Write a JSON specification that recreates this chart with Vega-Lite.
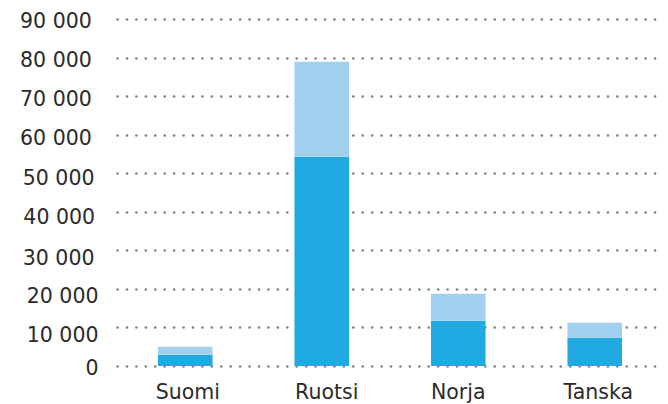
{
  "$schema": "https://vega.github.io/schema/vega-lite/v6.json",
  "autosize": "none",
  "padding": {"left": 117, "top": 19, "right": 5, "bottom": 38},
  "width": 546,
  "height": 347,
  "background": "white",
  "config": {
    "view": {"stroke": null},
    "axis": {"labelFont": "DejaVu Sans", "labelColor": "#2b2b2b", "labelFontSize": 20.5, "domain": false, "ticks": false}
  },
  "data": {
    "values": [
      {"maa": "Suomi", "osa": "a", "jarjestys": 1, "arvo": 2930},
      {"maa": "Suomi", "osa": "b", "jarjestys": 2, "arvo": 2070},
      {"maa": "Ruotsi", "osa": "a", "jarjestys": 1, "arvo": 54300},
      {"maa": "Ruotsi", "osa": "b", "jarjestys": 2, "arvo": 24600},
      {"maa": "Norja", "osa": "a", "jarjestys": 1, "arvo": 11750},
      {"maa": "Norja", "osa": "b", "jarjestys": 2, "arvo": 7000},
      {"maa": "Tanska", "osa": "a", "jarjestys": 1, "arvo": 7340},
      {"maa": "Tanska", "osa": "b", "jarjestys": 2, "arvo": 3860}
    ]
  },
  "mark": {"type": "bar"},
  "encoding": {
    "x": {
      "field": "maa",
      "type": "nominal",
      "sort": ["Suomi", "Ruotsi", "Norja", "Tanska"],
      "scale": {"paddingInner": 0.6, "paddingOuter": 0.3},
      "axis": {
        "title": null,
        "labelAngle": 0,
        "labelPadding": 16,
        "labelOffset": {"expr": "datum.value == 'Suomi' ? 2.5 : datum.value == 'Ruotsi' ? 5 : datum.value == 'Tanska' ? 3.5 : 0"}
      }
    },
    "y": {
      "field": "arvo",
      "type": "quantitative",
      "stack": "zero",
      "scale": {"domain": [0, 90000], "nice": false},
      "axis": {
        "title": null,
        "values": [0, 10000, 20000, 30000, 40000, 50000, 60000, 70000, 80000, 90000],
        "labelExpr": "replace(format(datum.value, ','), ',', ' ')",
        "labelPadding": {"expr": "19 + [0, 0, 0, 4, 3.4, 4, 6.7, 6.7, 6.7, 6.7][round(datum.value / 10000)]"},
        "labelOffset": {"expr": "[2.7, 8.3, 8.1, 8.4, 6.1, 5.5, 4.1, 3.1, 3.2, 2.7][round(datum.value / 10000)]"},
        "grid": true,
        "gridColor": "#8a8282",
        "gridDash": [0.1, 9.33],
        "gridWidth": 2.6,
        "gridCap": "round"
      }
    },
    "color": {
      "field": "osa",
      "type": "nominal",
      "scale": {"domain": ["a", "b"], "range": ["#21aae1", "#a1d0ef"]},
      "legend": null
    },
    "order": {"field": "jarjestys", "type": "quantitative"}
  }
}
